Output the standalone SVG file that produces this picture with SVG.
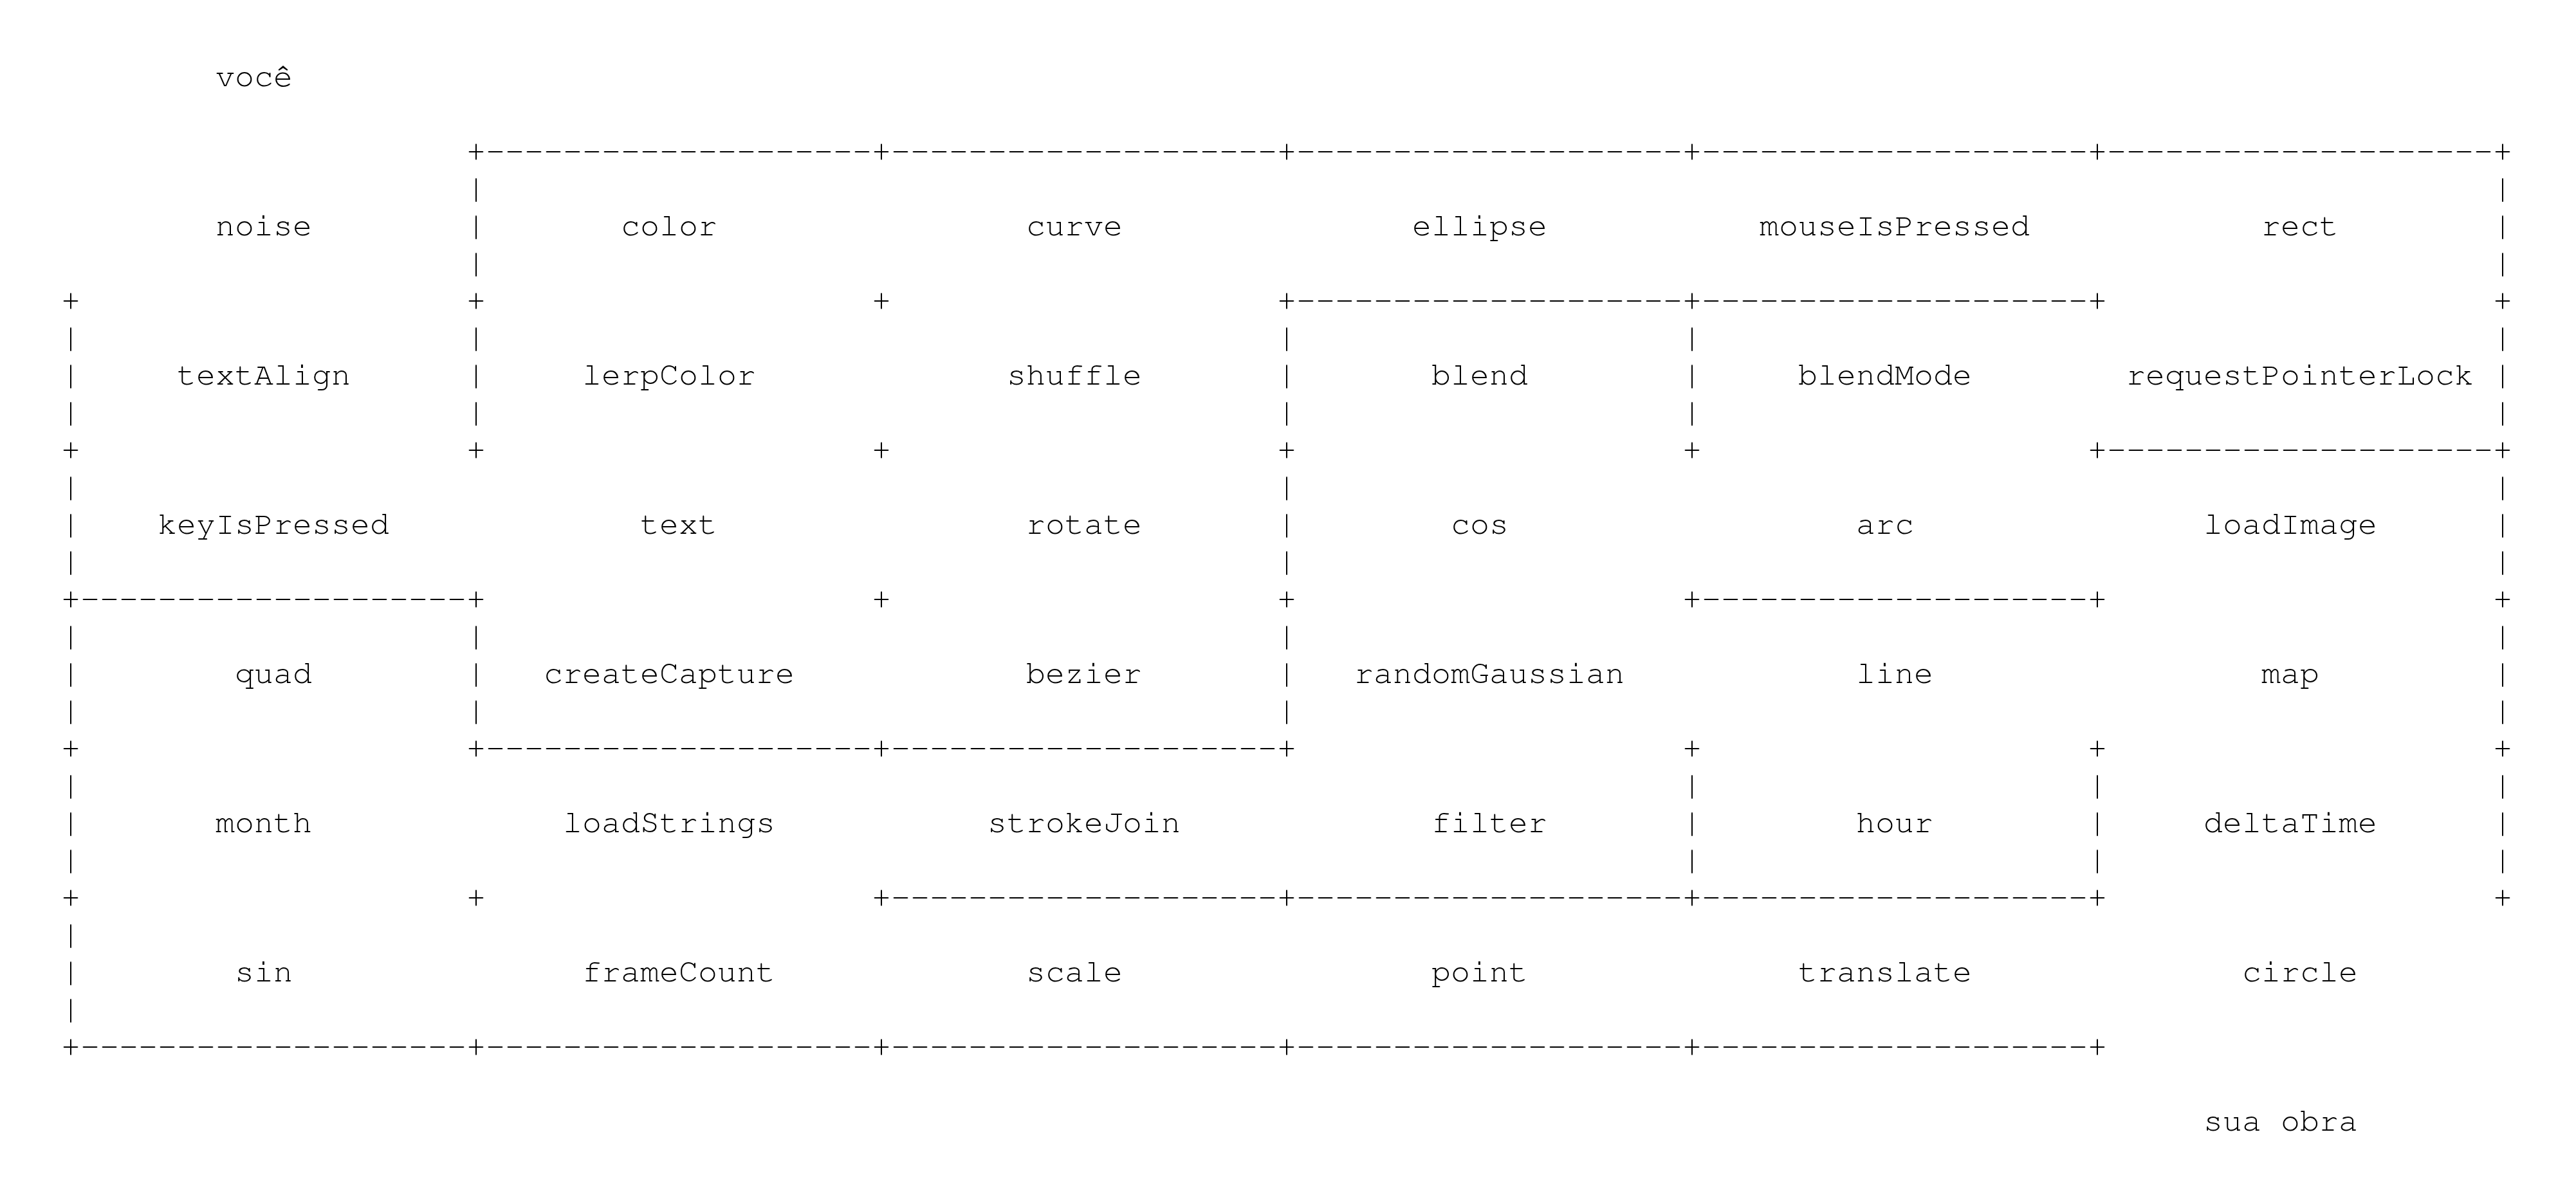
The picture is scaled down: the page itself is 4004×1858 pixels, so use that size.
<svg xmlns="http://www.w3.org/2000/svg" width="4004" height="1858" viewBox="0 0 4004 1858">
<style>
text{font-family:"Nimbus Mono PS","FreeMono","Courier New","Liberation Mono",monospace;font-size:50px;fill:#000}
</style>
<rect x="0" y="0" width="4004" height="1858" fill="#fff"/>
<g id="connectors">
<text x="725" y="250">+--------------------+--------------------+--------------------+--------------------+--------------------+</text>
<text x="725" y="308">|</text><text x="3875" y="308">|</text>
<text x="725" y="366">|</text><text x="3875" y="366">|</text>
<text x="725" y="424">|</text><text x="3875" y="424">|</text>
<text x="95" y="482">+</text><text x="725" y="482">+</text><text x="1355" y="482">+</text><text x="1985" y="482">+--------------------+--------------------+</text><text x="3875" y="482">+</text>
<text x="95" y="540">|</text><text x="725" y="540">|</text><text x="1985" y="540">|</text><text x="2615" y="540">|</text><text x="3875" y="540">|</text>
<text x="95" y="598">|</text><text x="725" y="598">|</text><text x="1985" y="598">|</text><text x="2615" y="598">|</text><text x="3875" y="598">|</text>
<text x="95" y="656">|</text><text x="725" y="656">|</text><text x="1985" y="656">|</text><text x="2615" y="656">|</text><text x="3875" y="656">|</text>
<text x="95" y="714">+</text><text x="725" y="714">+</text><text x="1355" y="714">+</text><text x="1985" y="714">+</text><text x="2615" y="714">+</text><text x="3245" y="714">+--------------------+</text>
<text x="95" y="772">|</text><text x="1985" y="772">|</text><text x="3875" y="772">|</text>
<text x="95" y="830">|</text><text x="1985" y="830">|</text><text x="3875" y="830">|</text>
<text x="95" y="888">|</text><text x="1985" y="888">|</text><text x="3875" y="888">|</text>
<text x="95" y="946">+--------------------+</text><text x="1355" y="946">+</text><text x="1985" y="946">+</text><text x="2615" y="946">+--------------------+</text><text x="3875" y="946">+</text>
<text x="95" y="1004">|</text><text x="725" y="1004">|</text><text x="1985" y="1004">|</text><text x="3875" y="1004">|</text>
<text x="95" y="1062">|</text><text x="725" y="1062">|</text><text x="1985" y="1062">|</text><text x="3875" y="1062">|</text>
<text x="95" y="1120">|</text><text x="725" y="1120">|</text><text x="1985" y="1120">|</text><text x="3875" y="1120">|</text>
<text x="95" y="1178">+</text><text x="725" y="1178">+--------------------+--------------------+</text><text x="2615" y="1178">+</text><text x="3245" y="1178">+</text><text x="3875" y="1178">+</text>
<text x="95" y="1236">|</text><text x="2615" y="1236">|</text><text x="3245" y="1236">|</text><text x="3875" y="1236">|</text>
<text x="95" y="1294">|</text><text x="2615" y="1294">|</text><text x="3245" y="1294">|</text><text x="3875" y="1294">|</text>
<text x="95" y="1352">|</text><text x="2615" y="1352">|</text><text x="3245" y="1352">|</text><text x="3875" y="1352">|</text>
<text x="95" y="1410">+</text><text x="725" y="1410">+</text><text x="1355" y="1410">+--------------------+--------------------+--------------------+</text><text x="3875" y="1410">+</text>
<text x="95" y="1468">|</text>
<text x="95" y="1526">|</text>
<text x="95" y="1584">|</text>
<text x="95" y="1642">+--------------------+--------------------+--------------------+--------------------+--------------------+</text>
</g>
<g id="voce"><text x="335" y="134">você</text></g>
<g id="noise"><text x="335" y="366">noise</text></g>
<g id="color"><text x="965" y="366">color</text></g>
<g id="curve"><text x="1595" y="366">curve</text></g>
<g id="ellipse"><text x="2195" y="366">ellipse</text></g>
<g id="mouseIsPressed"><text x="2735" y="366">mouseIsPressed</text></g>
<g id="rect"><text x="3515" y="366">rect</text></g>
<g id="textAlign"><text x="275" y="598">textAlign</text></g>
<g id="lerpColor"><text x="905" y="598">lerpColor</text></g>
<g id="shuffle"><text x="1565" y="598">shuffle</text></g>
<g id="blend"><text x="2225" y="598">blend</text></g>
<g id="blendMode"><text x="2795" y="598">blendMode</text></g>
<g id="requestPointerLock"><text x="3305" y="598">requestPointerLock</text></g>
<g id="keyIsPressed"><text x="245" y="830">keyIsPressed</text></g>
<g id="text"><text x="995" y="830">text</text></g>
<g id="rotate"><text x="1595" y="830">rotate</text></g>
<g id="cos"><text x="2255" y="830">cos</text></g>
<g id="arc"><text x="2885" y="830">arc</text></g>
<g id="loadImage"><text x="3425" y="830">loadImage</text></g>
<g id="quad"><text x="365" y="1062">quad</text></g>
<g id="createCapture"><text x="845" y="1062">createCapture</text></g>
<g id="bezier"><text x="1595" y="1062">bezier</text></g>
<g id="randomGaussian"><text x="2105" y="1062">randomGaussian</text></g>
<g id="line"><text x="2885" y="1062">line</text></g>
<g id="map"><text x="3515" y="1062">map</text></g>
<g id="month"><text x="335" y="1294">month</text></g>
<g id="loadStrings"><text x="875" y="1294">loadStrings</text></g>
<g id="strokeJoin"><text x="1535" y="1294">strokeJoin</text></g>
<g id="filter"><text x="2225" y="1294">filter</text></g>
<g id="hour"><text x="2885" y="1294">hour</text></g>
<g id="deltaTime"><text x="3425" y="1294">deltaTime</text></g>
<g id="sin"><text x="365" y="1526">sin</text></g>
<g id="frameCount"><text x="905" y="1526">frameCount</text></g>
<g id="scale"><text x="1595" y="1526">scale</text></g>
<g id="point"><text x="2225" y="1526">point</text></g>
<g id="translate"><text x="2795" y="1526">translate</text></g>
<g id="circle"><text x="3485" y="1526">circle</text></g>
<g id="sua-obra"><text x="3425" y="1758">sua obra</text></g>
</svg>
